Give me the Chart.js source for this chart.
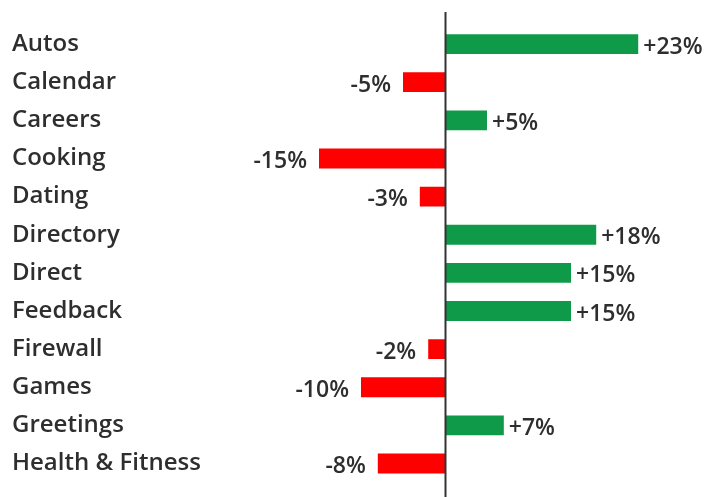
<!DOCTYPE html>
<html>
<head>
<meta charset="utf-8">
<script src="https://cdn.jsdelivr.net/npm/chart.js@4"></script>
<style>
  html, body { margin: 0; padding: 0; background: #fff; }
  #wrap { width: 714px; height: 497px; position: relative; }
</style>
</head>
<body>
<div id="wrap"><canvas id="chart"></canvas></div>
<script>
// Dados
const categories = [
  "Autos", "Calendar", "Careers", "Cooking", "Dating", "Directory",
  "Direct", "Feedback", "Firewall", "Games", "Greetings", "Health & Fitness",
];
const changes = [23, -5, 5, -15, -3, 18, 15, 15, -2, -10, 7, -8];

const GREEN = "#0e9a48";
const RED = "#fe0000";
const TEXT = "#2e2e2e";
const FONT = "'Open Sans', 'Noto Sans', sans-serif";

function pct(v) {
  return (v > 0 ? "+" : "") + v + "%";
}

// Linha vertical no zero
const zeroLinePlugin = {
  id: "zeroLine",
  afterDatasetsDraw(chart) {
    const ctx = chart.ctx;
    const x = Math.round(chart.scales.x.getPixelForValue(0)) + 0.5;
    ctx.save();
    ctx.strokeStyle = "#333";
    ctx.lineWidth = 2;
    ctx.beginPath();
    ctx.moveTo(x, chart.chartArea.top - 13);
    ctx.lineTo(x, chart.height);
    ctx.stroke();
    ctx.restore();
  },
};

// Rótulos de valor ao lado das barras
const valueLabelPlugin = {
  id: "valueLabels",
  afterDatasetsDraw(chart) {
    const ctx = chart.ctx;
    const meta = chart.getDatasetMeta(0);
    ctx.save();
    ctx.font = "600 23px " + FONT;
    ctx.fillStyle = TEXT;
    ctx.textBaseline = "middle";
    meta.data.forEach((bar, i) => {
      const v = changes[i];
      if (v >= 0) {
        ctx.textAlign = "left";
        ctx.fillText(pct(v), bar.x + 5, bar.y + 3);
      } else {
        ctx.textAlign = "right";
        ctx.fillText(pct(v), bar.x - 12, bar.y + 3);
      }
    });
    ctx.restore();
  },
};

new Chart(document.getElementById("chart"), {
  type: "bar",
  data: {
    labels: categories,
    datasets: [
      {
        data: changes,
        backgroundColor: changes.map((v) => (v >= 0 ? GREEN : RED)),
        borderWidth: 0,
        barPercentage: 0.52,
        categoryPercentage: 1,
      },
    ],
  },
  options: {
    indexAxis: "y",
    responsive: true,
    maintainAspectRatio: false,
    animation: false,
    layout: { padding: { left: 12, top: 25, bottom: 5, right: 0 } },
    plugins: {
      legend: { display: false },
      tooltip: { enabled: false },
    },
    scales: {
      x: {
        min: -28.57,
        max: 32.02,
        display: false,
        grid: { display: false },
      },
      y: {
        grid: { display: false },
        border: { display: false },
        afterFit(scale) {
          scale.width = 193;
        },
        ticks: {
          crossAlign: "far",
          color: TEXT,
          padding: 0,
          font: { family: FONT, size: 24, weight: "600" },
        },
      },
    },
  },
  plugins: [zeroLinePlugin, valueLabelPlugin],
});
</script>
</body>
</html>
